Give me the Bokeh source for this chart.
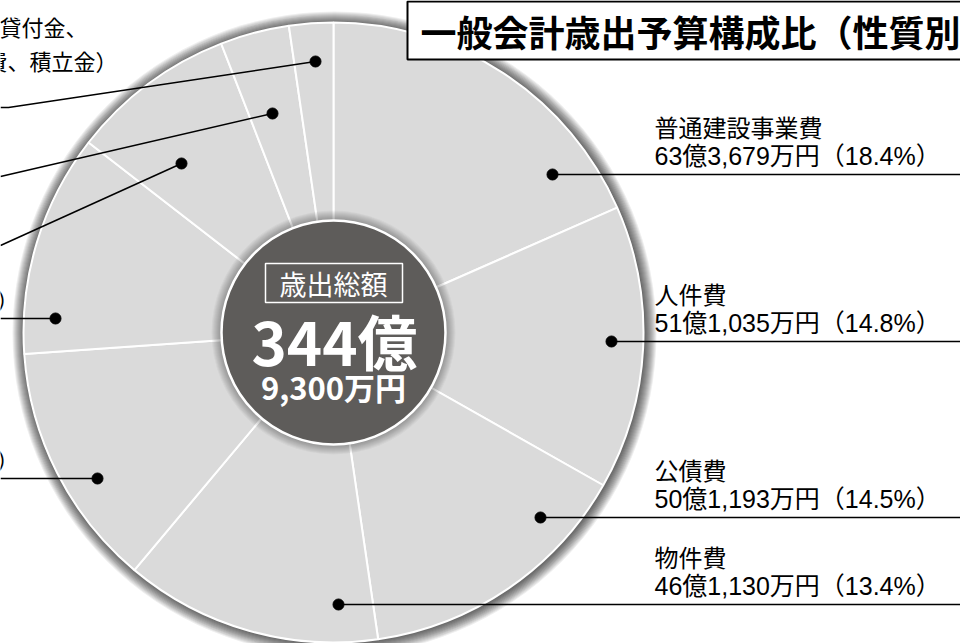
from bokeh.plotting import figure
from bokeh.models import Range1d
from bokeh.core.properties import value
from bokeh.embed import file_html
from bokeh.resources import INLINE
import numpy as np

# ---------------- data ----------------
categories = ["普通建設事業費", "人件費", "公債費", "物件費",
              "扶助費", "補助費等", "繰出金", "維持補修費", "その他"]
percents = [18.4, 14.8, 14.5, 13.4, 12.8, 11.6, 8.6, 3.6, 2.3]
amounts = ["63億3,679万円", "51億1,035万円", "50億1,193万円", "46億1,130万円",
           "", "", "", "", ""]
other_lines = ["貸付金、", "費、積立金）"]
title_text = "一般会計歳出予算構成比（性質別"
total_caption = "歳出総額"
total_big = "344億"
total_small = "9,300万円"

# ---------------- layout ----------------
W, H = 960, 643
def Y(v):
    return H - v

CX, CY = 333, Y(332)
R = 310
R_IN = 112
SLICE = "#dadada"
DARK = "#5e5c5a"
FONT = "Noto Sans CJK JP"
NUMFONT = "'Liberation Sans', 'Noto Sans CJK JP'"

p = figure(width=W, height=H, x_range=Range1d(0, W), y_range=Range1d(0, H),
           x_axis_type=None, y_axis_type=None, toolbar_location=None,
           output_backend="svg", min_border=0)
p.grid.visible = False
p.outline_line_color = None
p.background_fill_color = "white"
p.border_fill_color = "white"

# drop shadow of the pie
for i in range(1, 13):
    p.circle(x=CX + 1, y=CY - 1, radius=R + i, fill_color="black",
             fill_alpha=0.065, line_color=None)

# slices (clockwise from 12 o'clock)
cum = np.concatenate([[0], np.cumsum(percents)])
deg_start = 90 - cum[:-1] * 3.6
deg_end = 90 - cum[1:] * 3.6
p.wedge(x=CX, y=CY, radius=R, start_angle=np.radians(deg_start),
        end_angle=np.radians(deg_end), direction="clock",
        fill_color=SLICE, line_color="white", line_width=2)

# shadow of centre disc
for i in range(1, 11):
    p.circle(x=CX, y=CY, radius=R_IN + i, fill_color="black",
             fill_alpha=0.035, line_color=None)
p.circle(x=CX, y=CY, radius=R_IN, fill_color=DARK, line_color="white",
         line_width=2.5)

# centre texts
p.quad(left=[265], right=[402], top=[Y(263)], bottom=[Y(302)],
       fill_color=None, line_color="white", line_width=1.5)
p.text(x=[333], y=[Y(283)], text=[total_caption], text_color="white",
       text_font=value(FONT), text_font_size="27px", text_align="center",
       text_baseline="middle")
p.text(x=[334], y=[Y(339)], text=[total_big], text_color="white",
       text_font=value(FONT), text_font_size="60px", text_font_style="bold",
       text_align="center", text_baseline="middle")
p.text(x=[333], y=[Y(386)], text=[total_small], text_color="white",
       text_font=value(FONT), text_font_size="31px", text_font_style="bold",
       text_align="center", text_baseline="middle")

# leader lines and dots (pixel layout)
dots = [(552, 174), (611, 341), (540, 517), (338, 604),
        (97, 478), (55, 318), (181, 163), (272, 113), (315, 61)]
ends = [[(960, 174)], [(960, 341)], [(960, 517)], [(960, 604)],
        [(0, 478)], [(0, 318)], [(0, 245)], [(0, 176)], [(8, 107), (0, 107)]]
for (dx, dy), e in zip(dots, ends):
    xs = [dx] + [pt[0] for pt in e]
    ys = [Y(dy)] + [Y(pt[1]) for pt in e]
    p.line(xs, ys, line_color="black", line_width=1.5)
p.scatter([d[0] for d in dots], [Y(d[1]) for d in dots], size=11,
          color="black")

# right-hand labels
LX = 654
for k in range(4):
    ly = dots[k][1]
    p.text(x=[LX], y=[Y(ly - 48)], text=[categories[k]], text_color="black",
           text_font=value(FONT), text_font_size="24px",
           text_baseline="middle")
    p.text(x=[LX], y=[Y(ly - 19)], text=[f"{amounts[k]}（{percents[k]}%）"],
           text_color="black", text_font=value(NUMFONT),
           text_font_size="25px", text_baseline="middle")

# left-hand labels (mostly outside the picture, as in the reference)
for k in (4, 5):
    ly = dots[k][1]
    p.text(x=[19], y=[Y(ly - 19)], text=[f"（{percents[k]}%）"],
           text_color="black", text_font=value(FONT), text_font_size="23px",
           text_align="right", text_baseline="middle")
p.text(x=[87], y=[Y(25)], text=[other_lines[0]], text_color="black",
       text_font=value(FONT), text_font_size="22px", text_align="right",
       text_baseline="middle")
p.text(x=[117], y=[Y(59)], text=[other_lines[1]], text_color="black",
       text_font=value(FONT), text_font_size="22px", text_align="right",
       text_baseline="middle")

# title box
p.quad(left=[407], right=[990], top=[Y(1)], bottom=[Y(59)],
       fill_color="white", line_color="black", line_width=2)
p.text(x=[420], y=[Y(30)], text=[title_text], text_color="black",
       text_font=value(FONT), text_font_size="36px", text_font_style="bold",
       text_baseline="middle")

open("out.html", "w").write(file_html(p, INLINE))
